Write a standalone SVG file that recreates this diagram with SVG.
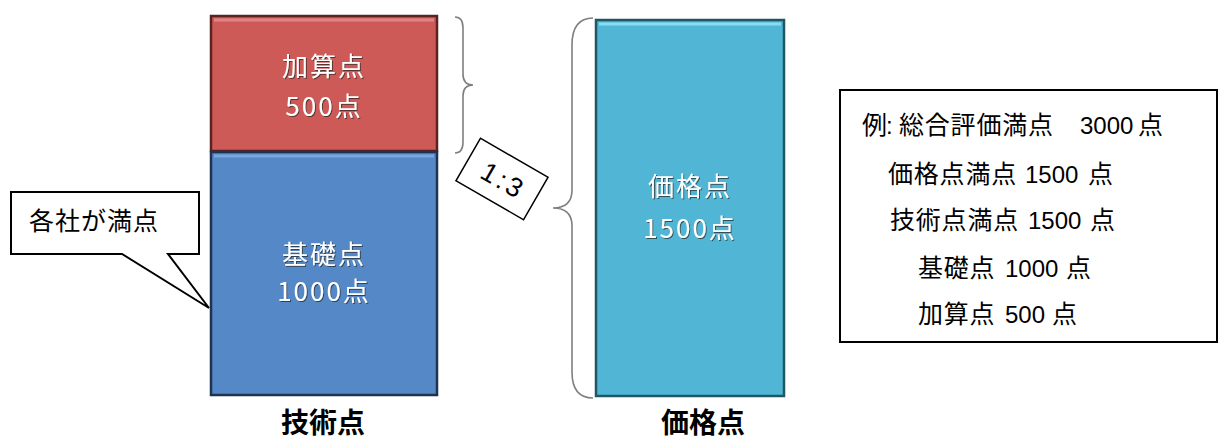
<svg xmlns="http://www.w3.org/2000/svg" width="1218" height="439" viewBox="0 0 1218 439">
<defs>
<style>
.box-text{font-family:"Noto Sans CJK JP","Noto Sans",sans-serif;font-size:26px;fill:#ffffff;text-anchor:middle;letter-spacing:2px}
.label{font-family:"Noto Sans CJK JP",sans-serif;font-size:28px;font-weight:700;fill:#000;text-anchor:middle}
.info{font-family:"Liberation Sans","Noto Sans CJK JP",sans-serif;font-size:24px;fill:#000}
.cjk{font-size:25px;letter-spacing:0.8px}
.brace{fill:none;stroke:#7f7f7f;stroke-width:1.6}
.callout{fill:#fff;stroke:#000;stroke-width:2}
</style>
<filter id="ts" x="-10%" y="-10%" width="130%" height="140%">
<feDropShadow dx="1" dy="1" stdDeviation="0.6" flood-color="#202020" flood-opacity="0.7"/>
</filter>
</defs>
<rect width="1218" height="439" fill="#fff"/>

<g id="node-kasan">
<rect x="211" y="16" width="226" height="135" fill="#cd5a57" stroke="#5a2221" stroke-width="2.5"/>
<line x1="214" y1="20" x2="434" y2="20" stroke="#e48482" stroke-width="3"/>
<text class="box-text" x="324" y="76" filter="url(#ts)">加算点</text>
<text class="box-text" x="324" y="116" filter="url(#ts)">500点</text>
</g>

<g id="node-kiso">
<rect x="211" y="152" width="226" height="243" fill="#5588c7" stroke="#1e3350" stroke-width="2.5"/>
<line x1="214" y1="156" x2="434" y2="156" stroke="#7aa6dc" stroke-width="3"/>
<text class="box-text" x="324" y="264" filter="url(#ts)">基礎点</text>
<text class="box-text" x="324" y="301" filter="url(#ts)">1000点</text>
</g>

<g id="node-kakaku">
<rect x="596" y="20" width="188" height="376" fill="#51b6d5" stroke="#1f5663" stroke-width="2.5"/>
<line x1="599" y1="24" x2="781" y2="24" stroke="#86dcf2" stroke-width="3"/>
<text class="box-text" x="690" y="196" filter="url(#ts)">価格点</text>
<text class="box-text" x="690" y="238" filter="url(#ts)">1500点</text>
</g>

<g id="label-gijutsu">
<text class="label" x="323" y="433">技術点</text>
</g>
<g id="label-kakaku">
<text class="label" x="703" y="433">価格点</text>
</g>

<g id="callout">
<path class="callout" d="M11,192 H199 V254 H168 L209,308 L122,254 H11 Z"/>
<text x="29" y="230" style="font-family:'Noto Sans CJK JP',sans-serif;font-size:25px;fill:#000;letter-spacing:1px">各社が満点</text>
</g>

<g id="ratio">
<g transform="translate(502,179) rotate(30)">
<rect x="-39" y="-24.5" width="78" height="49" fill="#fff" stroke="#000" stroke-width="1.5"/>
<text x="2" y="10" text-anchor="middle" style="font-family:'Liberation Sans','Noto Sans CJK JP',sans-serif;font-size:27px;fill:#000;letter-spacing:3px">1:3</text>
</g>
</g>

<g id="info">
<rect x="840" y="90" width="377" height="252" fill="#fff" stroke="#000" stroke-width="2"/>
<text class="info" y="134"><tspan x="862" class="cjk">例</tspan><tspan x="886">:</tspan><tspan x="899" class="cjk">総合評価満点</tspan><tspan x="1080">3000</tspan><tspan x="1138" class="cjk">点</tspan></text>
<text class="info" y="183"><tspan x="888" class="cjk">価格点満点</tspan><tspan x="1025">1500</tspan><tspan x="1088" class="cjk">点</tspan></text>
<text class="info" y="229"><tspan x="890" class="cjk">技術点満点</tspan><tspan x="1028">1500</tspan><tspan x="1090" class="cjk">点</tspan></text>
<text class="info" y="277"><tspan x="918" class="cjk">基礎点</tspan><tspan x="1005">1000</tspan><tspan x="1066" class="cjk">点</tspan></text>
<text class="info" y="323"><tspan x="918" class="cjk">加算点</tspan><tspan x="1005">500</tspan><tspan x="1052" class="cjk">点</tspan></text>
</g>

<g id="connectors">
<path class="brace" d="M455,17 Q463,17 463,28 L463,74 Q463,85 473,85 Q463,85 463,96 L463,142 Q463,153 455,153"/>
<path class="brace" d="M593,18 Q572,18 572,45 L572,190 Q572,208 553,208 Q572,208 572,226 L572,372 Q572,398 593,398"/>
</g>
</svg>
